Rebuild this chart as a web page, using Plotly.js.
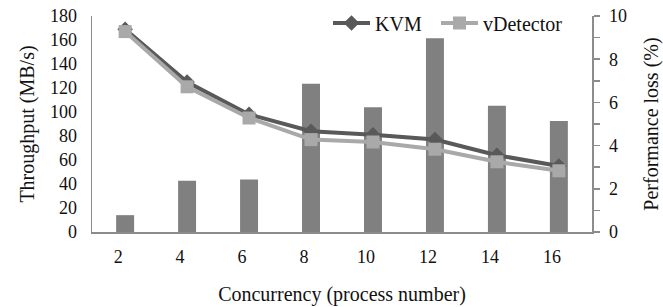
<!DOCTYPE html>
<html>
<head>
<meta charset="utf-8">
<script src="https://cdn.plot.ly/plotly-3.0.1.min.js"></script>
<style>html,body{margin:0;padding:0;background:#fff;}#chart{width:663px;height:307px;}</style>
</head>
<body>
<div id="chart"></div>
<script>
var categories = ['2', '4', '6', '8', '10', '12', '14', '16'];
var kvmThroughput = [169, 125, 98, 84, 81, 77, 64, 55];
var vdetectorThroughput = [167, 121, 95, 77, 75, 69, 58.5, 51];
var performanceLoss = [0.78, 2.37, 2.43, 6.86, 5.78, 8.97, 5.84, 5.14];
var leftTicks = [0, 20, 40, 60, 80, 100, 120, 140, 160, 180];
var rightTicks = [0, 2, 4, 6, 8, 10];

var FONT = '"Liberation Serif", "Times New Roman", serif';

var traces = [
  {
    type: 'bar', name: 'Performance loss', x: categories, y: performanceLoss,
    xaxis: 'x', yaxis: 'y', width: 0.29,
    marker: {color: '#808080', line: {width: 0}},
    showlegend: false, hoverinfo: 'skip'
  },
  {
    type: 'scatter', mode: 'lines+markers', name: 'KVM', x: categories, y: kvmThroughput,
    xaxis: 'x', yaxis: 'y2', legendwidth: 56,
    line: {color: '#595959', width: 4},
    marker: {symbol: 'diamond', size: 12, color: '#595959'}
  },
  {
    type: 'scatter', mode: 'lines+markers', name: 'vDetector', x: categories, y: vdetectorThroughput,
    xaxis: 'x', yaxis: 'y2', legendwidth: 84,
    line: {color: '#a9a9a9', width: 4},
    marker: {symbol: 'square', size: 13, color: '#a9a9a9'}
  }
];

var layout = {
  width: 663, height: 307,
  margin: {l: 92, r: 71, t: 16, b: 75, pad: 0, autoexpand: false},
  paper_bgcolor: '#fff', plot_bgcolor: 'rgba(0,0,0,0)',
  font: {family: FONT, size: 18, color: '#111'},
  showlegend: true,
  legend: {
    orientation: 'h', x: 0.472, xanchor: 'left',
    yref: 'container', y: 0.925, yanchor: 'middle',
    font: {family: FONT, size: 20, color: '#111'},
    bgcolor: 'rgba(0,0,0,0)', itemwidth: 37, tracegroupgap: 0
  },
  xaxis: {
    type: 'category', showgrid: false, zeroline: false,
    showline: true, linecolor: '#8c8c8c', linewidth: 1.5,
    ticks: '', ticklabelstandoff: 8, ticklabelshift: -7,
    tickfont: {family: FONT, size: 18, color: '#111'},
    title: {text: 'Concurrency (process number)', font: {family: FONT, size: 20, color: '#111'}, standoff: 21}
  },
  yaxis: {
    side: 'right', range: [0, 10], tickvals: rightTicks, showgrid: false, zeroline: false,
    showline: true, linecolor: '#8c8c8c', linewidth: 1.5,
    ticks: 'outside', ticklen: 6, tickcolor: '#8c8c8c', tickwidth: 1.5, ticklabelstandoff: 6,
    minor: {dtick: 1, ticks: 'outside', ticklen: 6, tickcolor: '#8c8c8c', tickwidth: 1.5, showgrid: false},
    tickfont: {family: FONT, size: 18, color: '#111'},
    title: {text: 'Performance loss (%)', font: {family: FONT, size: 20, color: '#111'}, standoff: 26}
  },
  yaxis2: {
    overlaying: 'y', side: 'left', range: [0, 180], tickvals: leftTicks,
    showgrid: false, zeroline: false,
    showline: true, linecolor: '#8c8c8c', linewidth: 1.5,
    ticks: '', ticklabelstandoff: 10,
    tickfont: {family: FONT, size: 18, color: '#111'},
    title: {text: 'Throughput (MB/s)', font: {family: FONT, size: 20, color: '#111'}, standoff: 10}
  }
};

Plotly.newPlot('chart', traces, layout, {displayModeBar: false, staticPlot: true});
</script>
</body>
</html>
